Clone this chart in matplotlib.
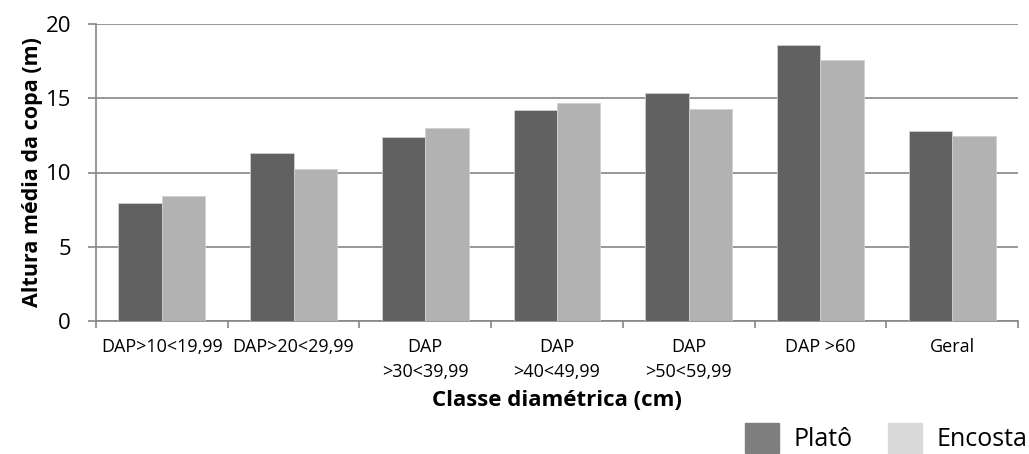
import matplotlib.pyplot as plt
import numpy as np
from matplotlib.patches import Patch

plt.rcParams['font.family'] = ['Open Sans', 'DejaVu Sans']

# dados
classes = ['DAP>10<19,99', 'DAP>20<29,99', 'DAP\n>30<39,99', 'DAP\n>40<49,99',
           'DAP\n>50<59,99', 'DAP >60', 'Geral']
plato = [7.96, 11.33, 12.41, 14.21, 15.35, 18.59, 12.79]
encosta = [8.43, 10.23, 13.01, 14.66, 14.25, 17.58, 12.47]

cor_plato = '#616161'
cor_encosta = '#b2b2b2'
cor_eixo = '#868686'

fig = plt.figure(figsize=(10.29, 4.54), dpi=100)
ax = fig.add_axes([96 / 1029, 1 - 321 / 454, 922 / 1029, 297 / 454])

x = np.arange(len(classes))
w = 0.33
ax.bar(x - w / 2, plato, w, color=cor_plato, edgecolor='#d0d0d0', linewidth=0.6, zorder=3)
ax.bar(x + w / 2, encosta, w, color=cor_encosta, edgecolor='#d0d0d0', linewidth=0.6, zorder=3)

ax.set_xlim(-0.5, len(classes) - 0.5)
ax.set_ylim(0, 20)
ax.set_yticks([0, 5, 10, 15, 20])
ax.yaxis.grid(True, color=cor_eixo, linewidth=1.2, zorder=0)

ax.set_xticks(x)
ax.set_xticklabels(classes, fontsize=13, linespacing=1.55)
ax.set_xticks(np.arange(len(classes) + 1) - 0.5, minor=True)
ax.tick_params(axis='x', which='major', length=0, pad=12)
ax.tick_params(axis='x', which='minor', length=5, color=cor_eixo, width=1.2, direction='out')
ax.tick_params(axis='y', labelsize=16, length=6, color=cor_eixo, width=1.2, pad=12)

for s in ['top', 'right']:
    ax.spines[s].set_visible(False)
for s in ['left', 'bottom']:
    ax.spines[s].set_color(cor_eixo)
    ax.spines[s].set_linewidth(1.2)

ax.set_ylabel('Altura média da copa (m)', fontsize=15.5, fontweight='bold', labelpad=2)
ax.set_xlabel('Classe diamétrica (cm)', fontsize=16, fontweight='bold', labelpad=6)

handles = [Patch(color='#7f7f7f', label='Platô'), Patch(color='#d9d9d9', label='Encosta')]
fig.legend(handles=handles, loc='center left', bbox_to_anchor=(745 / 1029, 1 - 438 / 454),
           ncol=2, frameon=False, fontsize=18, handlelength=1.35, handleheight=1.5,
           columnspacing=1.4, handletextpad=0.6, borderpad=0, borderaxespad=0)

fig.savefig('out.png', dpi=100)
